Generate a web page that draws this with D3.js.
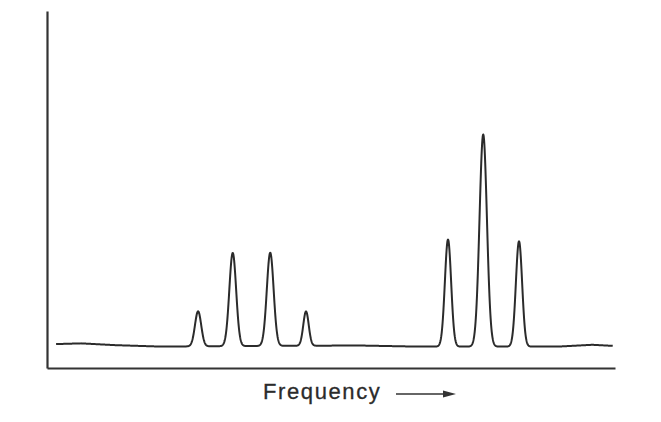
<!DOCTYPE html>
<html>
<head>
<meta charset="utf-8">
<script src="https://cdn.jsdelivr.net/npm/d3@7"></script>
<style>
  body { margin: 0; background: #fff; }
  svg { display: block; }
</style>
</head>
<body>
<div id="chart"></div>
<script>
// peaks (frequency in arbitrary units, intensity above baseline)
const peakFreq = [26.6, 32.7, 39.3, 45.6, 70.6, 76.8, 83.1];
const peakHeight = [9.8, 26.1, 26.1, 9.6, 30.0, 59.4, 29.5];
const peakWidth = [0.55, 0.6, 0.6, 0.48, 0.55, 0.65, 0.55];

// slow drift of the baseline
const baseFreq = [1.6, 6, 12, 20, 40, 55, 65, 90, 96, 99.6];
const baseLevel = [6.7, 6.9, 6.4, 6.0, 6.2, 6.3, 6.0, 6.0, 6.5, 6.2];

const xLabel = "Frequency";

const width = 661;
const height = 422;
const margin = { left: 47, right: 46, top: 11, bottom: 54 };

const svg = d3
  .select("#chart")
  .append("svg")
  .attr("width", width)
  .attr("height", height);

const xScale = d3
  .scaleLinear()
  .domain([0, 100])
  .range([margin.left, width - margin.right]);

const yScale = d3
  .scaleLinear()
  .domain([0, 100])
  .range([height - margin.bottom, margin.top]);

const baseline = d3.scaleLinear().domain(baseFreq).range(baseLevel);

// sample the trace finely for drawing
const step = 0.05;
const samples = d3.range(baseFreq[0], baseFreq[baseFreq.length - 1] + step / 2, step);
const trace = samples.map((f) => {
  let v = baseline(f);
  peakFreq.forEach((p, i) => {
    const z = (f - p) / peakWidth[i];
    v += peakHeight[i] * Math.exp(-0.5 * z * z);
  });
  return [f, v];
});

const line = d3
  .line()
  .x((d) => xScale(d[0]))
  .y((d) => yScale(d[1]));

svg
  .append("path")
  .datum(trace)
  .attr("d", line)
  .attr("fill", "none")
  .attr("stroke", "#2b2b2b")
  .attr("stroke-width", 2)
  .attr("stroke-linejoin", "round");

// axes without ticks
const xAxis = d3.axisBottom(xScale).tickValues([]).tickSizeOuter(0);
const yAxis = d3.axisLeft(yScale).tickValues([]).tickSizeOuter(0);

svg
  .append("g")
  .attr("id", "x-axis")
  .attr("transform", `translate(0, ${height - margin.bottom})`)
  .call(xAxis)
  .select(".domain")
  .attr("stroke", "#333")
  .attr("stroke-width", 2.2);

svg
  .append("g")
  .attr("id", "y-axis")
  .attr("transform", `translate(${margin.left}, 0)`)
  .call(yAxis)
  .select(".domain")
  .attr("stroke", "#333")
  .attr("stroke-width", 2.2);

// axis label with arrow
svg
  .append("text")
  .attr("x", 263)
  .attr("y", 399)
  .attr("font-family", "Liberation Sans, Arial, sans-serif")
  .attr("font-size", 22)
  .attr("letter-spacing", 1.6)
  .attr("fill", "#2b2b2b")
  .attr("stroke", "#2b2b2b")
  .attr("stroke-width", 0.3)
  .text(xLabel);

svg
  .append("line")
  .attr("x1", 396)
  .attr("x2", 447)
  .attr("y1", 394)
  .attr("y2", 394)
  .attr("stroke", "#333")
  .attr("stroke-width", 1.6);

svg
  .append("path")
  .attr("d", "M443,390.5 L456,394 L443,397.5 Z")
  .attr("fill", "#333");
</script>
</body>
</html>
